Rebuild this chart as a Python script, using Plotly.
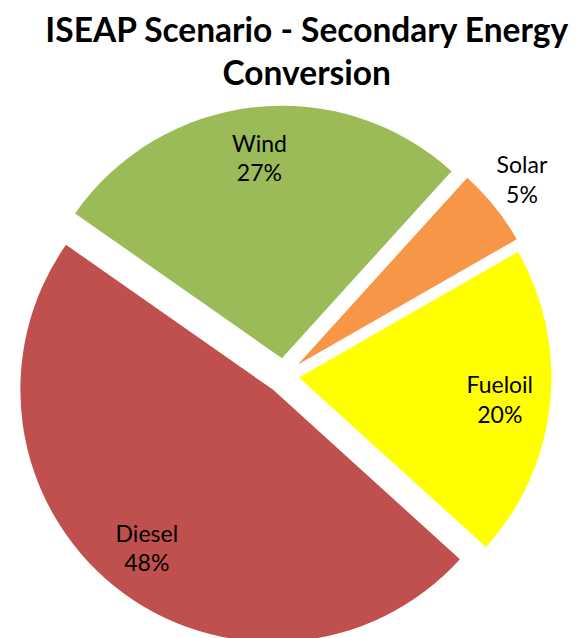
import plotly.graph_objects as go

# slices in clockwise order, starting at the Wind/Diesel edge
labels = ["Wind", "Solar", "Fueloil", "Diesel"]
shares = [27, 5, 20, 48]
colors = ["#9BBB59", "#F79646", "#FFFF00", "#C0504D"]
explode = [0.07, 0.07, 0.06, 0.07]
inside_pos = ["inside", "none", "inside", "inside"]
outside_pos = ["none", "outside", "none", "none"]

pie_common = dict(
    labels=labels,
    values=shares,
    sort=False,
    direction="clockwise",
    rotation=305,
    pull=explode,
    domain=dict(x=[0, 0.953], y=[0, 0.847]),
    showlegend=False,
    automargin=False,
)
clear = dict(colors=["rgba(0,0,0,0)"] * len(labels), line=dict(width=0))
label_font = dict(family="Lato, sans-serif", size=23, color="#000000")

fig = go.Figure()

# solid slices
fig.add_trace(go.Pie(
    **pie_common,
    marker=dict(colors=colors, line=dict(width=0)),
    textinfo="none",
    hovertemplate="%{label}: %{percent}<extra></extra>",
))

# transparent ring on top, only to carry the labels near the rim
fig.add_trace(go.Pie(
    **pie_common,
    hole=0.6,
    marker=clear,
    texttemplate="%{label}<br>%{percent:.0%}",
    textposition=inside_pos,
    insidetextorientation="horizontal",
    textfont=label_font,
    hoverinfo="skip",
))

# the small slice gets its label outside, nudged a bit towards the top
outside_common = dict(pie_common, rotation=301)
fig.add_trace(go.Pie(
    **outside_common,
    marker=clear,
    texttemplate="%{label}<br>%{percent:.0%}",
    textposition=outside_pos,
    textfont=label_font,
    hoverinfo="skip",
))

fig.update_layout(
    title=dict(
        text="ISEAP Scenario - Secondary Energy<br>Conversion",
        x=0.516,
        xanchor="center",
        y=0.947,
        yanchor="top",
        font=dict(family="Lato, sans-serif", size=33.5, color="#000000", weight="bold"),
    ),
    width=579,
    height=638,
    margin=dict(l=0, r=0, t=0, b=0, autoexpand=False),
    paper_bgcolor="white",
    plot_bgcolor="white",
)

fig.write_html("out.html")
